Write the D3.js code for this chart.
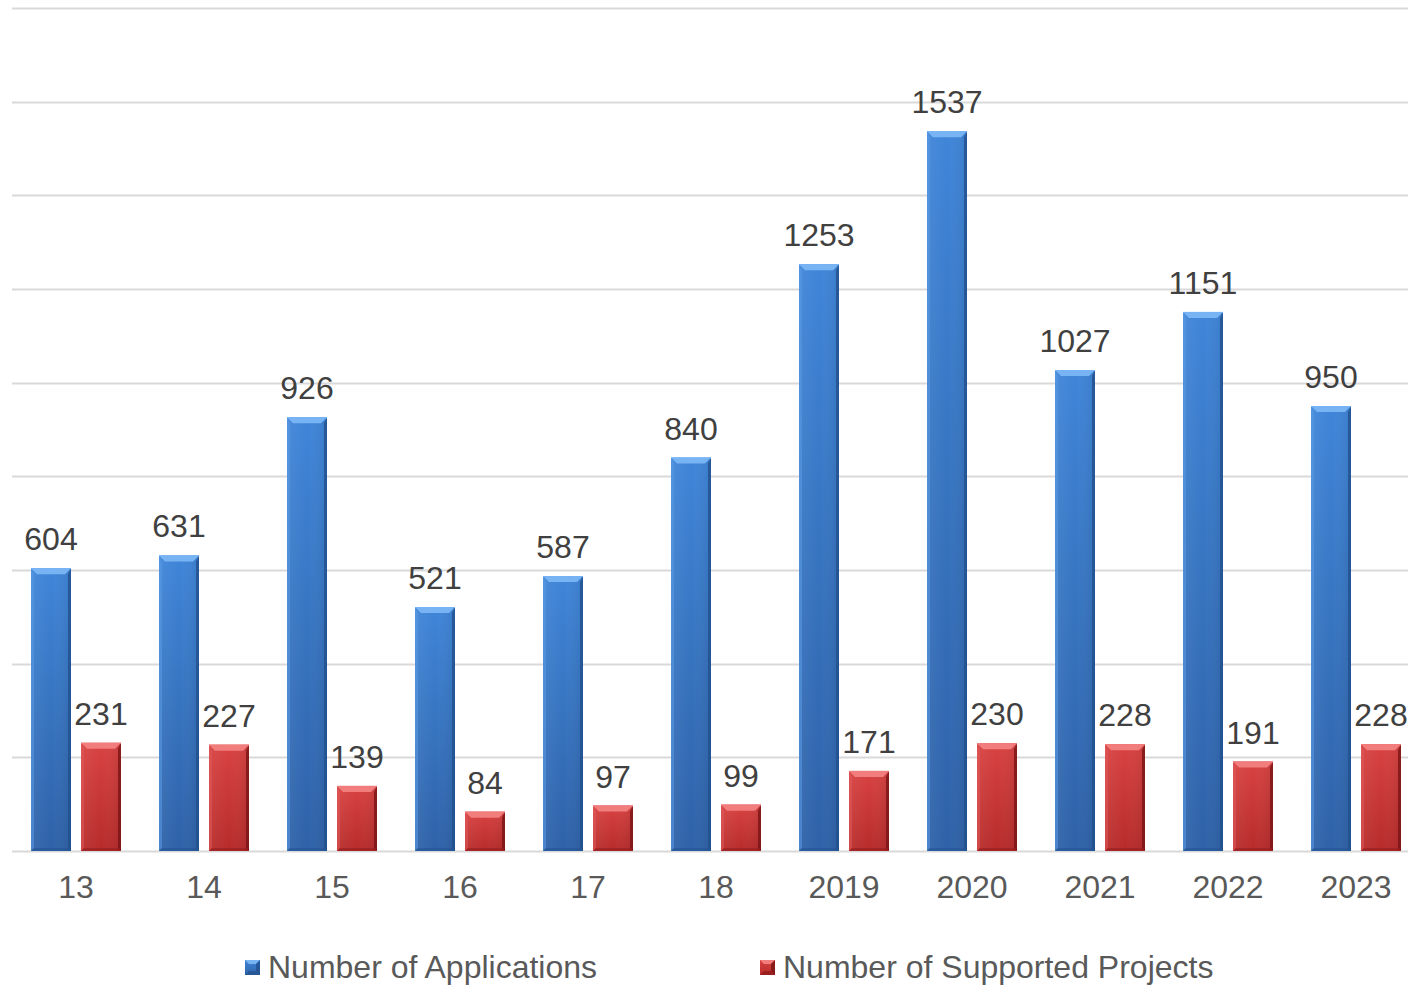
<!DOCTYPE html>
<html>
<head>
<meta charset="utf-8">
<script src="https://cdn.jsdelivr.net/npm/d3@7"></script>
<style>
  html, body { margin: 0; padding: 0; background: #fff; overflow: hidden; }
  svg { display: block; font-family: "Liberation Sans", Arial, sans-serif; }
</style>
</head>
<body>
<svg id="chart" width="1408" height="986"></svg>
<script>
// Chart data
const categories = ["13", "14", "15", "16", "17", "18", "2019", "2020", "2021", "2022", "2023"];
const applications = [604, 631, 926, 521, 587, 840, 1253, 1537, 1027, 1151, 950];
const supported = [231, 227, 139, 84, 97, 99, 171, 230, 228, 191, 228];
const seriesNames = ["Number of Applications", "Number of Supported Projects"];
const yTicks = [0, 200, 400, 600, 800, 1000, 1200, 1400, 1600, 1800];

const svg = d3.select("#chart");
const plot = { left: 12, right: 1420, top: 8, bottom: 851 };

const x = d3.scaleBand().domain(categories).range([plot.left, plot.right]).padding(0);
const xs = d3.scaleBand().domain(seriesNames).range([0, x.bandwidth()])
  .paddingInner(0.2).paddingOuter(0.38);
const y = d3.scaleLinear().domain([0, 1800]).range([plot.bottom, plot.top]);

const palettes = {
  "Number of Applications": {
    top: "#3f85d8", bottom: "#2e62a8", bevelTop: "#78b4f4", bevelLeft: "#5a9ae4",
    bevelRight: "#22508f", bevelBottom: "#285798"
  },
  "Number of Supported Projects": {
    top: "#d84242", bottom: "#b72b2b", bevelTop: "#f27d7d", bevelLeft: "#e05a5a",
    bevelRight: "#7a1414", bevelBottom: "#9a2020"
  }
};

// Gradients for the bar bodies
const defs = svg.append("defs");
seriesNames.forEach((s, i) => {
  const p = palettes[s];
  const g = defs.append("linearGradient").attr("id", "body" + i)
    .attr("x1", 0).attr("y1", 0).attr("x2", 0).attr("y2", 1);
  g.append("stop").attr("offset", "0%").attr("stop-color", p.top);
  g.append("stop").attr("offset", "100%").attr("stop-color", p.bottom);
  const gh = defs.append("linearGradient").attr("id", "shade" + i)
    .attr("x1", 0).attr("y1", 0).attr("x2", 1).attr("y2", 0);
  gh.append("stop").attr("offset", "0%").attr("stop-color", "#fff").attr("stop-opacity", 0.06);
  gh.append("stop").attr("offset", "50%").attr("stop-color", "#fff").attr("stop-opacity", 0.0);
  gh.append("stop").attr("offset", "100%").attr("stop-color", "#000").attr("stop-opacity", 0.08);
});

// Horizontal gridlines
svg.append("g").selectAll("line").data(yTicks).join("line")
  .attr("x1", plot.left).attr("x2", plot.right)
  .attr("y1", d => Math.round(y(d)) + 0.5).attr("y2", d => Math.round(y(d)) + 0.5)
  .attr("stroke", "#d9d9d9").attr("stroke-width", 2);

// Bars with bevelled edges
const rows = [];
categories.forEach((c, ci) => {
  rows.push({ cat: c, series: seriesNames[0], si: 0, value: applications[ci] });
  rows.push({ cat: c, series: seriesNames[1], si: 1, value: supported[ci] });
});

const bev = 6, side = 3;
const barG = svg.append("g");
rows.forEach(d => {
  const p = palettes[d.series];
  const x0 = x(d.cat) + xs(d.series);
  const w = xs.bandwidth();
  const y0 = y(d.value);
  const y1 = y(0);
  const h = y1 - y0;
  const g = barG.append("g");
  g.append("rect").attr("x", x0).attr("y", y0).attr("width", w).attr("height", h)
    .attr("fill", `url(#body${d.si})`);
  g.append("rect").attr("x", x0).attr("y", y0).attr("width", w).attr("height", h)
    .attr("fill", `url(#shade${d.si})`);
  // left edge
  g.append("polygon").attr("points", [
    [x0, y0], [x0 + side, y0 + bev], [x0 + side, y1 - side], [x0, y1]
  ].join(" ")).attr("fill", p.bevelLeft).attr("opacity", 0.55);
  // right edge
  g.append("polygon").attr("points", [
    [x0 + w, y0], [x0 + w - side, y0 + bev], [x0 + w - side, y1 - side], [x0 + w, y1]
  ].join(" ")).attr("fill", p.bevelRight).attr("opacity", 0.8);
  // bottom edge
  g.append("polygon").attr("points", [
    [x0, y1], [x0 + side, y1 - side], [x0 + w - side, y1 - side], [x0 + w, y1]
  ].join(" ")).attr("fill", p.bevelBottom).attr("opacity", 0.7);
  // top bevel
  g.append("polygon").attr("points", [
    [x0, y0], [x0 + w, y0], [x0 + w - side - 3, y0 + bev], [x0 + side + 3, y0 + bev]
  ].join(" ")).attr("fill", p.bevelTop);
  g.append("line").attr("x1", x0).attr("x2", x0 + w).attr("y1", y0 + 0.5).attr("y2", y0 + 0.5)
    .attr("stroke", p.bevelTop).attr("stroke-width", 1);
});

// Value labels
svg.append("g").selectAll("text").data(rows).join("text")
  .attr("x", d => x(d.cat) + xs(d.series) + xs.bandwidth() / 2)
  .attr("y", d => y(d.value) - 18)
  .attr("text-anchor", "middle")
  .attr("font-size", 32).attr("fill", "#404040")
  .text(d => d.value);

// Category axis labels
svg.append("g").selectAll("text").data(categories).join("text")
  .attr("x", d => x(d) + x.bandwidth() / 2)
  .attr("y", 898)
  .attr("text-anchor", "middle")
  .attr("font-size", 32).attr("fill", "#595959")
  .text(d => d);

// Legend
const legendX = [245, 760];
const leg = svg.append("g");
seriesNames.forEach((s, i) => {
  const p = palettes[s];
  const gx = legendX[i];
  const lg = leg.append("g").attr("transform", `translate(${gx},960)`);
  lg.append("rect").attr("width", 15).attr("height", 15).attr("fill", `url(#body${i})`);
  lg.append("polygon").attr("points", "0,0 15,0 11,4 4,4").attr("fill", p.bevelTop);
  lg.append("polygon").attr("points", "0,15 15,15 11,11 4,11").attr("fill", p.bevelBottom);
  lg.append("polygon").attr("points", "15,0 15,15 11,11 11,4").attr("fill", p.bevelRight).attr("opacity", 0.8);
  lg.append("text").attr("x", 23).attr("y", 978)
    .attr("transform", "translate(0,-960)")
    .attr("font-size", 32).attr("fill", "#595959").text(s);
});
</script>
</body>
</html>
